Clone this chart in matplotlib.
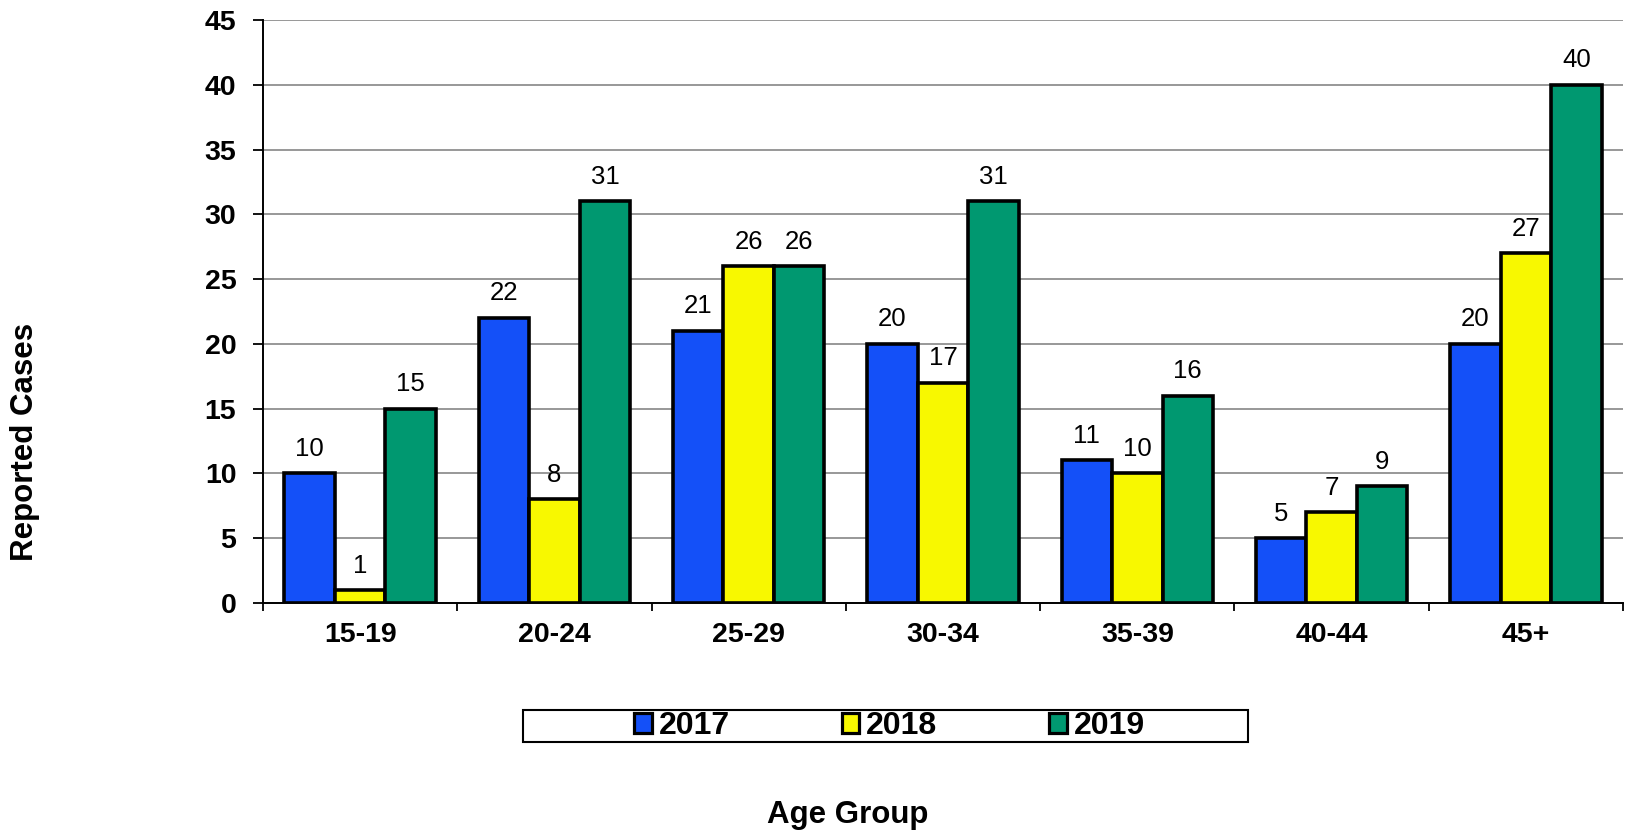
import matplotlib
matplotlib.use("Agg")
import matplotlib.pyplot as plt
from matplotlib.patches import Rectangle, Patch
import numpy as np

plt.rcParams['font.family'] = ['Liberation Sans', 'DejaVu Sans']

categories = ["15-19", "20-24", "25-29", "30-34", "35-39", "40-44", "45+"]
years = ["2017", "2018", "2019"]
values_2017 = [10, 22, 21, 20, 11, 5, 20]
values_2018 = [1, 8, 26, 17, 10, 7, 27]
values_2019 = [15, 31, 26, 31, 16, 9, 40]
y_ticks = [0, 5, 10, 15, 20, 25, 30, 35, 40, 45]

series = [values_2017, values_2018, values_2019]
colors = ['#1450F8', '#F8F800', '#009870']

W, H = 1625, 831
fig = plt.figure(figsize=(W / 100, H / 100), dpi=100)
ax = fig.add_axes([263 / W, 1 - 603 / H, 1360 / W, 583 / H])

x = np.arange(len(categories))
bw = 0.26
for j, (vals, col) in enumerate(zip(series, colors)):
    ax.bar(x + (j - 1) * bw, vals, width=bw, color=col,
           edgecolor='black', linewidth=2.6, zorder=3)
    for xi, v in zip(x + (j - 1) * bw, vals):
        ax.annotate(str(v), (xi, v), xytext=(0, 9), textcoords='offset points',
                    ha='center', va='bottom', fontsize=18.5, color='black')

ax.set_xlim(-0.5, len(categories) - 0.5)
ax.set_ylim(0, 45)
ax.set_yticks(y_ticks)
ax.set_yticklabels([str(t) for t in y_ticks], fontsize=20.5, fontweight='bold')
ax.yaxis.grid(True, color='#909090', linewidth=1.3, zorder=0)
ax.set_axisbelow(True)

ax.set_xticks(np.arange(len(categories) + 1) - 0.5)
ax.set_xticklabels([])
ax.set_xticks(x, minor=True)
ax.set_xticklabels(categories, minor=True, fontsize=20.5, fontweight='bold')
ax.tick_params(axis='x', which='major', length=6, width=1.3, direction='out')
ax.tick_params(axis='x', which='minor', length=0, pad=14)
ax.tick_params(axis='y', length=7.2, width=1.3, direction='out', pad=12)

for s in ['top', 'right']:
    ax.spines[s].set_visible(False)
for s in ['left', 'bottom']:
    ax.spines[s].set_linewidth(1.4)

fig.text(25 / W, 1 - 442 / H, "Reported Cases", rotation=90, ha='center', va='center',
         fontsize=22.5, fontweight='bold')
fig.text(848 / W, 1 - 823 / H, "Age Group", ha='center', va='baseline',
         fontsize=22.5, fontweight='bold')

# legend box
fig.patches.append(Rectangle((523 / W, 1 - 742 / H), (1248 - 523) / W, 32 / H,
                             transform=fig.transFigure, facecolor='white',
                             edgecolor='black', linewidth=1.5))
handles = [Patch(facecolor=c, edgecolor='black', linewidth=2.3) for c in colors]
fig.legend(handles, years, loc='center', bbox_to_anchor=(889.5 / W, 1 - 726 / H),
           ncol=3, frameon=False, prop={'size': 23, 'weight': 'bold'},
           handlelength=0.55, handleheight=0.6, handletextpad=0.22,
           columnspacing=3.5, borderpad=0)

fig.savefig("out.png", dpi=100)
